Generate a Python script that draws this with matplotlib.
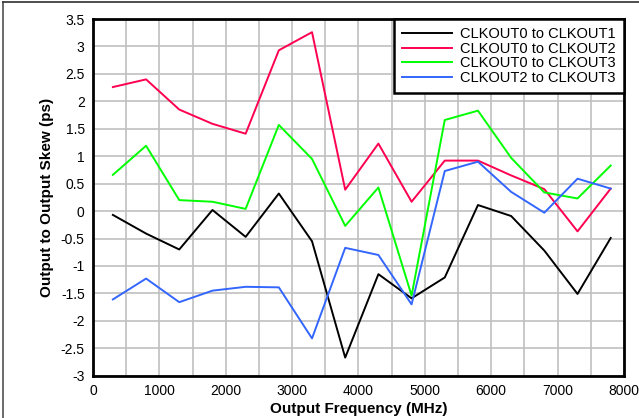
import matplotlib
matplotlib.use('Agg')
import matplotlib.pyplot as plt
from matplotlib.lines import Line2D

plt.rcParams['font.family'] = ['Liberation Sans', 'DejaVu Sans']

freq = [300, 800, 1300, 1800, 2300, 2800, 3300, 3800,
        4300, 4800, 5300, 5800, 6300, 6800, 7300, 7800]

clk0_1 = [-0.07, -0.41, -0.70, 0.02, -0.47, 0.32, -0.55, -2.67,
          -1.15, -1.59, -1.21, 0.11, -0.09, -0.72, -1.51, -0.49]
clk0_2 = [2.26, 2.40, 1.85, 1.59, 1.41, 2.93, 3.26, 0.39,
          1.23, 0.17, 0.92, 0.92, 0.65, 0.40, -0.37, 0.41]
clk0_3 = [0.66, 1.19, 0.20, 0.17, 0.04, 1.57, 0.95, -0.27,
          0.43, -1.54, 1.66, 1.83, 0.97, 0.34, 0.23, 0.83]
clk2_3 = [-1.61, -1.23, -1.66, -1.45, -1.38, -1.39, -2.32, -0.67,
          -0.80, -1.70, 0.73, 0.90, 0.35, -0.03, 0.59, 0.41]

series = [
    ('CLKOUT0 to CLKOUT1', clk0_1, '#000000'),
    ('CLKOUT0 to CLKOUT2', clk0_2, '#ff0050'),
    ('CLKOUT0 to CLKOUT3', clk0_3, '#00ff00'),
    ('CLKOUT2 to CLKOUT3', clk2_3, '#3366ff'),
]

fig = plt.figure(figsize=(6.39, 4.18), dpi=100)
ax = fig.add_axes([0.1455, 0.1012, 0.831, 0.8533])

for name, vals, col in series:
    ax.plot(freq, vals, color=col, lw=1.4, label=name)

ax.set_xlim(0, 8000)
ax.set_ylim(-3, 3.5)
ax.set_xticks(range(0, 8001, 1000))
ax.set_xticks(range(500, 8000, 1000), minor=True)
ax.set_yticks([-3 + 0.5 * i for i in range(14)])
ax.set_yticklabels(['%g' % (-3 + 0.5 * i) for i in range(14)])
ax.grid(True, which='both', color='#c0c0c0', lw=1.2)
ax.set_axisbelow(True)
ax.tick_params(which='both', length=0, labelsize=10, pad=6)

for sp in ax.spines.values():
    sp.set_linewidth(2)

ax.set_xlabel('Output Frequency (MHz)', fontsize=11, fontweight='bold', labelpad=3)
ax.set_ylabel('Output to Output Skew (ps)', fontsize=11, fontweight='bold', labelpad=5)

leg = ax.legend(loc='upper right', fontsize=10.5, borderaxespad=0, fancybox=False,
                framealpha=1, edgecolor='black', handlelength=3.4,
                labelspacing=0.05, borderpad=0.55, handletextpad=0.6)
leg.get_frame().set_linewidth(1.8)

# border on the left and top edges of the figure
fig.add_artist(Line2D([0.005, 0.005], [0, 0.995], transform=fig.transFigure,
                      color='#505050', lw=1.2))
fig.add_artist(Line2D([0.005, 1], [0.995, 0.995], transform=fig.transFigure,
                      color='#303030', lw=1.2))

fig.savefig('out.png', dpi=100)
